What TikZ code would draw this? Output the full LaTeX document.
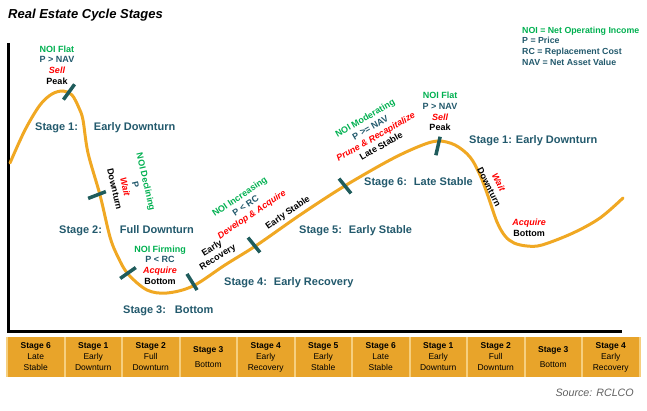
\documentclass[tikz,border=0pt]{standalone}
\usepackage{fontspec}
\setmainfont{Liberation Sans}
\usepackage{tikz}

\definecolor{curveorange}{HTML}{F0A823}
\definecolor{cellorange}{HTML}{E8A42A}
\definecolor{cellgap}{HTML}{F6CF7E}
\definecolor{tickteal}{HTML}{1F5C5C}
\definecolor{stageteal}{HTML}{22596C}
\definecolor{noigreen}{HTML}{00B050}
\definecolor{sellred}{HTML}{FF0000}
\definecolor{sourcegray}{HTML}{606060}

\begin{document}
\begin{tikzpicture}[x=1pt,y=-1pt,
    lbl/.style={font=\fontsize{9}{10.7}\selectfont\bfseries, align=center, inner sep=0pt},
    stagelbl/.style={font=\fontsize{11}{13}\selectfont\bfseries, text=stageteal, anchor=west, inner sep=0pt},
    tick/.style={rectangle, fill=tickteal, minimum width=19pt, minimum height=3.5pt, inner sep=0pt},
    cell/.style={rectangle, fill=cellorange, minimum width=55.5pt, minimum height=40pt, inner sep=0pt, align=center, font=\fontsize{8.5}{11}\selectfont}]
                        \useasboundingbox (0,0) rectangle (647,411);

                        % Title and legend
                        \node[anchor=west, inner sep=0pt, font=\fontsize{13}{15}\selectfont\bfseries\itshape] (title) at (8,15) {Real Estate Cycle Stages};
                        \node[anchor=west, inner sep=0pt, align=left, text=stageteal, font=\fontsize{8.8}{10.7}\selectfont\bfseries] (legend) at (522,46)
                            {{\color{noigreen}NOI = Net Operating Income}\\P = Price\\RC = Replacement Cost\\NAV = Net Asset Value};

                        % Axes and cycle curve
                        \draw[line width=3pt] (8,43) -- (8,331) -- (622,331);
                        \draw[curveorange, line width=3pt, line cap=round] plot[smooth, tension=0.55] coordinates {
                            (10,163) (25,130) (40,105) (52,94) (63,91) (72,95) (79,108) (83,120) (88,153)
                            (100,195) (110,237) (118,257) (128,274) (147,290) (167,293) (193,286) (225,265)
                            (257,245) (300,215) (343,187) (390,160) (420,146) (438,141) (455,145) (470,157)
                            (480,175) (488,196) (497,222) (505,236) (514,243) (527,246) (542,245) (573,233)
                            (600,218) (623,198)};

                        % Ticks
                        \node[tick, rotate=54] (t1) at (69,92) {};
                        \node[tick, rotate=21] (t2) at (97,195) {};
                        \node[tick, rotate=35] (t3) at (128,273) {};
                        \node[tick, rotate=-58] (t4) at (192,282) {};
                        \node[tick, rotate=-51] (t5) at (254,245) {};
                        \node[tick, rotate=-51] (t6) at (345,186) {};
                        \node[tick, rotate=77] (t7) at (438,146) {};

                        % Stage labels
                        \node[stagelbl] (s1a) at (35,128) {Stage 1:\hspace{16pt}Early Downturn};
                        \node[stagelbl] (s2) at (59,231) {Stage 2:\hspace{18pt}Full Downturn};
                        \node[stagelbl] (s3) at (123,311) {Stage 3:\hspace{9pt}Bottom};
                        \node[stagelbl] (s4) at (224,283) {Stage 4:\hspace{7pt}Early Recovery};
                        \node[stagelbl] (s5) at (299,231) {Stage 5:\hspace{7pt}Early Stable};
                        \node[stagelbl] (s6) at (364,183) {Stage 6:\hspace{7pt}Late Stable};
                        \node[stagelbl] (s1b) at (469,141) {Stage 1:\hspace{4pt}Early Downturn};

                        % Phase labels
                        \node[lbl] (peak1) at (57,65) {{\color{noigreen}NOI Flat}\\{\color{stageteal}P > NAV}\\{\color{sellred}\itshape Sell}\\Peak};
                        \node[lbl, rotate=-77] (down1) at (130.5,185.5) {{\color{noigreen}NOI Declining}\\{\color{stageteal}P}\\{\color{sellred}\itshape Wait}\\Downturn};
                        \node[lbl] (bottom1) at (160,265) {{\color{noigreen}NOI Firming}\\{\color{stageteal}P < RC}\\{\color{sellred}\itshape Acquire}\\Bottom};
                        \node[lbl, rotate=34] (incr) at (246,206) {{\color{noigreen}NOI Increasing}\\{\color{stageteal}P < RC}\\{\color{sellred}\itshape Develop \& Acquire}};
                        \node[lbl, rotate=32] (early) at (215,253) {Early\\Recovery};
                        \node[lbl, rotate=35] (estable) at (288,213) {Early Stable};
                        \node[lbl, rotate=30] (lstable) at (373,132) {{\color{noigreen}NOI Moderating}\\{\color{stageteal}P >= NAV}\\{\color{sellred}\itshape Prune \& Recapitalize}\\Late Stable};
                        \node[lbl] (peak2) at (440,111.5) {{\color{noigreen}NOI Flat}\\{\color{stageteal}P > NAV}\\{\color{sellred}\itshape Sell}\\Peak};
                        \node[lbl, rotate=-63] (down2) at (494,184.5) {{\color{sellred}\itshape Wait}\\Downturn};
                        \node[lbl] (bottom2) at (529,227.5) {{\color{sellred}\itshape Acquire}\\Bottom};

                        % Stage strip
                        \fill[cellgap] (6,337) rectangle (641,377);
                        \foreach \i/\s/\t in {1/6/Late\\Stable, 2/1/Early\\Downturn, 3/2/Full\\Downturn, 4/3/\rule{0pt}{13pt}Bottom,
                                              5/4/Early\\Recovery, 6/5/Early\\Stable, 7/6/Late\\Stable, 8/1/Early\\Downturn,
                                              9/2/Full\\Downturn, 10/3/\rule{0pt}{13pt}Bottom, 11/4/Early\\Recovery}
                            \node[cell] (cell\i) at ({7+57.5*(\i-0.5)},357) {\textbf{Stage \s}\\\t};

                        \node[anchor=east, inner sep=0pt, text=sourcegray, font=\fontsize{10.7}{12}\selectfont\itshape] (source) at (634,393) {Source: RCLCO};
                    \end{tikzpicture}
\end{document}
